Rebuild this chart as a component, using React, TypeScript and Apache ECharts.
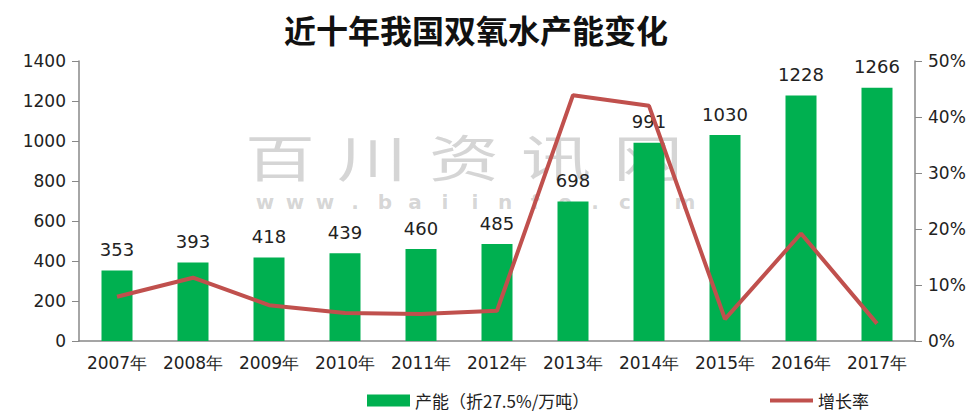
import React, { useEffect, useRef } from "react";
import * as echarts from "echarts";

const years = ["2007年", "2008年", "2009年", "2010年", "2011年", "2012年", "2013年", "2014年", "2015年", "2016年", "2017年"];
const capacity = [353, 393, 418, 439, 460, 485, 698, 991, 1030, 1228, 1266];
const growth = [7.9, 11.3, 6.4, 5.0, 4.8, 5.4, 43.9, 42.0, 3.9, 19.2, 3.1];
const leftTicks = [0, 200, 400, 600, 800, 1000, 1200, 1400];
const watermarkChars = ["百", "川", "资", "讯", "网"];
const watermarkUrl = "www.baiinfo.com".split("");

export default function App() {
  const ref = useRef<HTMLDivElement>(null);
  useEffect(() => {
    if (!ref.current) return;
    const chart = echarts.init(ref.current, null, { renderer: "svg" });
    const axisText = { color: "#222", fontSize: 17, fontFamily: "DejaVu Sans" };
    const wmFill = "rgba(150,150,150,0.4)";
    const graphics: any[] = [];
    watermarkChars.forEach((c, i) => {
      graphics.push({
        type: "text",
        x: 245 + i * 92,
        y: 130,
        scaleX: 1.4,
        z: -10,
        silent: true,
        style: { text: c, fill: wmFill, fontSize: 50, fontFamily: "Noto Sans CJK SC", fontWeight: "normal" },
      });
    });
    watermarkUrl.forEach((c, i) => {
      graphics.push({
        type: "text",
        x: 265 + i * 30,
        y: 192,
        z: -10,
        silent: true,
        style: { text: c, fill: wmFill, fontSize: 20, fontWeight: "bold", fontFamily: "DejaVu Sans", align: "center" },
      });
    });
    chart.setOption({
      animation: false,
      backgroundColor: "#fff",
      title: {
        text: "近十年我国双氧水产能变化",
        left: 279,
        top: 8,
        textStyle: { fontSize: 32, fontWeight: "bold", color: "#111", fontFamily: "Noto Sans CJK SC" },
      },
      graphic: graphics,
      legend: [
        {
          bottom: 3,
          left: 362,
          itemWidth: 43,
          itemHeight: 12,
          icon: "rect",
          textStyle: { fontSize: 17, color: "#222", fontFamily: "Noto Sans CJK SC" },
          data: ["产能（折27.5%/万吨）"],
        },
        {
          bottom: 3,
          left: 765,
          itemWidth: 43,
          itemHeight: 4,
          icon: "rect",
          textStyle: { fontSize: 17, color: "#222", fontFamily: "Noto Sans CJK SC" },
          data: ["增长率"],
        },
      ],
      grid: { left: 79, right: 64, top: 61, bottom: 76, containLabel: false },
      xAxis: {
        type: "category",
        data: years,
        axisLine: { lineStyle: { color: "#888", width: 1.5 } },
        axisTick: { show: false },
        axisLabel: { ...axisText, margin: 13, interval: 0 },
      },
      yAxis: [
        {
          type: "value",
          min: 0,
          max: 1400,
          interval: 200,
          splitLine: { show: false },
          axisLine: { show: true, lineStyle: { color: "#888", width: 1.5 } },
          axisTick: { show: true, length: 7, lineStyle: { color: "#888" } },
          axisLabel: { ...axisText, margin: 13, formatter: (v: number) => (leftTicks.includes(v) ? String(v) : "") },
        },
        {
          type: "value",
          min: 0,
          max: 50,
          interval: 10,
          splitLine: { show: false },
          axisLine: { show: true, lineStyle: { color: "#888", width: 1.5 } },
          axisTick: { show: true, length: 7, lineStyle: { color: "#888" } },
          axisLabel: { ...axisText, margin: 13, formatter: (v: number) => v + "%" },
        },
      ],
      series: [
        {
          name: "产能（折27.5%/万吨）",
          type: "bar",
          data: capacity,
          barWidth: 31,
          itemStyle: { color: "#00B050" },
          label: { show: true, position: "top", distance: 12, color: "#222", fontSize: 18, fontFamily: "DejaVu Sans" },
        },
        {
          name: "增长率",
          type: "line",
          yAxisIndex: 1,
          data: growth,
          symbol: "none",
          lineStyle: { color: "#C0504D", width: 4 },
          itemStyle: { color: "#C0504D" },
        },
      ],
    });
    return () => chart.dispose();
  }, []);
  return <div ref={ref} style={{ width: 979, height: 417, position: "absolute", left: 0, top: 0 }} />;
}
